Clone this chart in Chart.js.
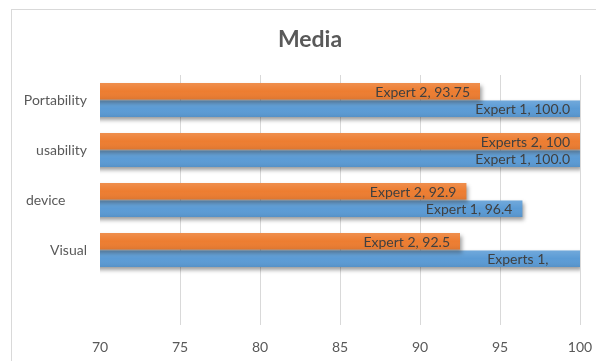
<!DOCTYPE html>
<html>
<head>
<meta charset="utf-8">
<script src="https://cdn.jsdelivr.net/npm/chart.js@4.4.1/dist/chart.umd.min.js"></script>
<style>
  html, body { margin: 0; padding: 0; background: #ffffff; }
  #wrap { width: 596px; height: 361px; }
</style>
</head>
<body>
<div id="wrap"><canvas id="c" width="596" height="361"></canvas></div>
<script>
// ---- data ----
const categories = ['Portability', 'usability', 'device      ', 'Visual', ''];
const expert2 = [93.75, 100, 92.9, 92.5, null];
const expert1 = [100, 100, 96.4, 100, null];
const expert2Labels = ['Expert 2, 93.75', 'Experts 2, 100', 'Expert 2, 92.9', 'Expert 2, 92.5', ''];
const expert1Labels = ['Expert 1, 100.0', 'Expert 1, 100.0', 'Expert 1, 96.4', 'Experts 1,      ', ''];
const xTicks = [70, 75, 80, 85, 90, 95, 100];
const titleText = 'Media';

const FONT = 'Lato, "Liberation Sans", sans-serif';

const frame = {
  id: 'frame',
  beforeDraw(chart) {
    const ctx = chart.ctx;
    ctx.save();
    ctx.fillStyle = '#ffffff';
    ctx.fillRect(0, 0, chart.width, chart.height);
    ctx.strokeStyle = '#d9d9d9';
    ctx.lineWidth = 1;
    ctx.strokeRect(11.5, 9.5, 800, 600);
    ctx.restore();
  }
};

// let the category labels use the space left of the axis box (no clipping)
const unclip = {
  id: 'unclip',
  afterLayout(chart) {
    chart.scales.y.left = 0;
  }
};

const shadow = {
  id: 'shadow',
  beforeDatasetsDraw(chart) {
    const ctx = chart.ctx;
    ctx.save();
    ctx.shadowColor = 'rgba(0,0,0,0.38)';
    ctx.shadowBlur = 4;
    ctx.shadowOffsetX = 2;
    ctx.shadowOffsetY = 3;
  },
  afterDatasetsDraw(chart) {
    chart.ctx.restore();
  }
};

const sheen = {
  id: 'sheen',
  afterDatasetsDraw(chart) {
    const ctx = chart.ctx;
    const left = chart.chartArea.left;
    ctx.save();
    chart.data.datasets.forEach((ds, di) => {
      chart.getDatasetMeta(di).data.forEach((el, i) => {
        if (ds.data[i] == null) return;
        const p = el.getProps(['x', 'y', 'height'], true);
        const top = p.y - p.height / 2;
        const g = ctx.createLinearGradient(0, top, 0, top + p.height);
        g.addColorStop(0, 'rgba(255,255,255,0.14)');
        g.addColorStop(0.5, 'rgba(255,255,255,0)');
        g.addColorStop(1, 'rgba(0,0,0,0.07)');
        ctx.fillStyle = g;
        ctx.fillRect(left, top, p.x - left, p.height);
      });
    });
    ctx.restore();
  }
};

const barLabels = {
  id: 'barLabels',
  afterDatasetsDraw(chart) {
    const ctx = chart.ctx;
    ctx.save();
    ctx.font = '14px ' + FONT;
    ctx.fillStyle = '#404040';
    ctx.textAlign = 'right';
    ctx.textBaseline = 'middle';
    chart.data.datasets.forEach((ds, di) => {
      chart.getDatasetMeta(di).data.forEach((el, i) => {
        const txt = ds.labelsText[i];
        if (!txt) return;
        const p = el.getProps(['x', 'y'], true);
        ctx.fillText(txt, p.x - 10, p.y + 1);
      });
    });
    ctx.restore();
  }
};

new Chart(document.getElementById('c'), {
  type: 'bar',
  data: {
    labels: categories,
    datasets: [
      {
        label: 'Expert 2',
        data: expert2,
        labelsText: expert2Labels,
        backgroundColor: '#ED7D31',
        borderWidth: 0,
        barPercentage: 0.95,
        categoryPercentage: 0.7
      },
      {
        label: 'Expert 1',
        data: expert1,
        labelsText: expert1Labels,
        backgroundColor: '#5B9BD5',
        borderWidth: 0,
        barPercentage: 0.95,
        categoryPercentage: 0.7
      }
    ]
  },
  options: {
    indexAxis: 'y',
    responsive: false,
    animation: false,
    devicePixelRatio: 1,
    layout: { padding: { left: 40, right: 16, top: 0, bottom: 0 } },
    plugins: {
      legend: { display: false },
      tooltip: { enabled: false },
      title: {
        display: true,
        text: titleText,
        color: '#595959',
        font: { family: FONT, size: 23, weight: 'bold', lineHeight: 1.2 },
        padding: { top: 26, bottom: 21.4 }
      }
    },
    scales: {
      x: {
        min: xTicks[0],
        max: xTicks[xTicks.length - 1],
        afterBuildTicks(scale) {
          scale.ticks = xTicks.map(v => ({ value: v }));
        },
        afterFit(scale) {
          scale.height = 36;
          scale.paddingLeft = 0;
          scale.paddingRight = 0;
        },
        border: { display: false },
        grid: {
          drawTicks: false,
          color: ctx => (ctx.index === 0 ? 'rgba(0,0,0,0)' : '#d9d9d9'),
          lineWidth: 1
        },
        ticks: {
          padding: 14,
          color: '#595959',
          font: { family: FONT, size: 14 },
          maxRotation: 0
        }
      },
      y: {
        afterFit(scale) { scale.width = 60; },
        border: { display: false },
        grid: { display: false, drawTicks: false },
        ticks: {
          padding: 13,
          color: '#595959',
          font: { family: FONT, size: 14 }
        }
      }
    }
  },
  plugins: [frame, unclip, shadow, sheen, barLabels]
});
</script>
</body>
</html>
